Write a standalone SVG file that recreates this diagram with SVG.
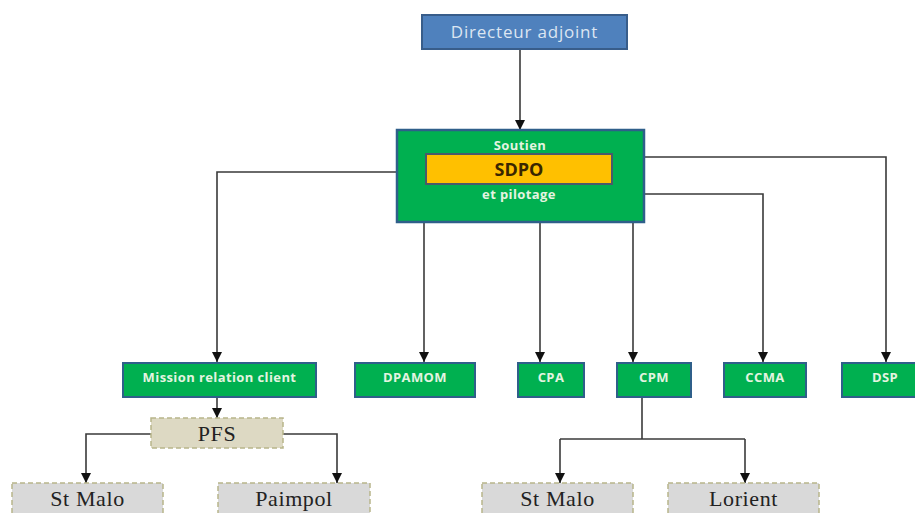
<svg xmlns="http://www.w3.org/2000/svg" width="915" height="513" viewBox="0 0 915 513">
<defs>
<marker id="ah" viewBox="0 0 10 10" refX="10" refY="5" markerWidth="10" markerHeight="10" markerUnits="userSpaceOnUse" orient="auto">
<path d="M0,0 L10,5 L0,10 z" fill="#111"/>
</marker>
<style>
.conn{fill:none;stroke:#3a3a3a;stroke-width:1.6}
.arr{marker-end:url(#ah)}
.gbox{fill:#00b050;stroke:#2f5f8a;stroke-width:2}
.gtxt{font-family:"Open Sans","DejaVu Sans",sans-serif;font-weight:bold;font-size:13px;letter-spacing:0.4px;fill:#e4f4e0;text-anchor:middle}
.dbox{stroke:#b8b58a;stroke-width:1.5;stroke-dasharray:5 3}
.stxt{font-family:"Liberation Serif",serif;font-size:22px;letter-spacing:0.6px;fill:#222;text-anchor:middle}
</style>
</defs>
<rect width="915" height="513" fill="#fff"/>
<g id="connectors">
<path class="conn arr" d="M520,49 V130"/>
<path class="conn arr" d="M397,172 H217 V362"/>
<path class="conn arr" d="M424,222 V362"/>
<path class="conn arr" d="M540,222 V362"/>
<path class="conn arr" d="M633,222 V362"/>
<path class="conn arr" d="M644,194 H763 V362"/>
<path class="conn arr" d="M644,157 H886 V362"/>
<path class="conn arr" d="M217,397 V418"/>
<path class="conn arr" d="M151,434 H86 V483"/>
<path class="conn arr" d="M283,434 H337 V483"/>
<path class="conn" d="M642,397 V439"/>
<path class="conn" d="M560,439 H745"/>
<path class="conn arr" d="M560,439 V483"/>
<path class="conn arr" d="M745,439 V483"/>
</g>
<g id="directeur">
<rect x="422" y="15" width="205" height="34" fill="#4f81bd" stroke="#385d8a" stroke-width="2"/>
<text x="524.5" y="38" font-family="'Open Sans','DejaVu Sans',sans-serif" font-size="17" letter-spacing="0.8" fill="#dce6f2" text-anchor="middle">Directeur adjoint</text>
</g>
<g id="sdpo">
<rect x="397" y="130" width="247" height="92" fill="#00b050" stroke="#2f5f8a" stroke-width="2.5"/>
<text x="520" y="150" class="gtxt">Soutien</text>
<rect x="426" y="154" width="186" height="30" fill="#ffc000" stroke="#4a5a6a" stroke-width="2"/>
<text x="519" y="176" font-family="'Open Sans','DejaVu Sans',sans-serif" font-weight="bold" font-size="18" fill="#3a2600" text-anchor="middle">SDPO</text>
<text x="519" y="199" class="gtxt">et pilotage</text>
</g>
<g id="mission">
<rect class="gbox" x="123" y="363" width="193" height="34"/>
<text class="gtxt" x="219.5" y="382">Mission relation client</text>
</g>
<g id="dpamom">
<rect class="gbox" x="355" y="363" width="120" height="34"/>
<text class="gtxt" x="415" y="382">DPAMOM</text>
</g>
<g id="cpa">
<rect class="gbox" x="518" y="363" width="66" height="34"/>
<text class="gtxt" x="551" y="382">CPA</text>
</g>
<g id="cpm">
<rect class="gbox" x="617" y="363" width="74" height="34"/>
<text class="gtxt" x="654" y="382">CPM</text>
</g>
<g id="ccma">
<rect class="gbox" x="724" y="363" width="82" height="34"/>
<text class="gtxt" x="765" y="382">CCMA</text>
</g>
<g id="dsp">
<rect class="gbox" x="842" y="363" width="80" height="34"/>
<text class="gtxt" x="885" y="382">DSP</text>
</g>
<g id="pfs">
<rect class="dbox" x="151" y="418" width="132" height="30" fill="#ddd9c3"/>
<text class="stxt" x="217" y="441">PFS</text>
</g>
<g id="stmalo1">
<rect class="dbox" x="12" y="483" width="151" height="40" fill="#d9d9d9"/>
<text class="stxt" x="87.5" y="506">St Malo</text>
</g>
<g id="paimpol">
<rect class="dbox" x="218" y="483" width="152" height="40" fill="#d9d9d9"/>
<text class="stxt" x="294" y="506">Paimpol</text>
</g>
<g id="stmalo2">
<rect class="dbox" x="482" y="483" width="151" height="40" fill="#d9d9d9"/>
<text class="stxt" x="557.5" y="506">St Malo</text>
</g>
<g id="lorient">
<rect class="dbox" x="668" y="483" width="151" height="40" fill="#d9d9d9"/>
<text class="stxt" x="743.5" y="506">Lorient</text>
</g>
</svg>
